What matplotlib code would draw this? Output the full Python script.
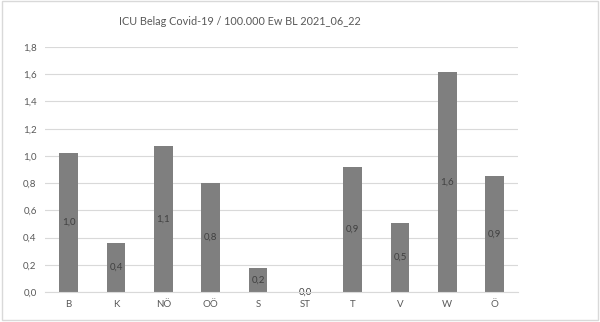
import matplotlib
matplotlib.use('Agg')
import matplotlib.pyplot as plt
from matplotlib.patches import Rectangle

plt.rcParams['font.family'] = ['Lato', 'DejaVu Sans']

# Bundesländer und Werte (ICU Belag je 100.000 EW)
laender = ["B", "K", "NÖ", "OÖ", "S", "ST", "T", "V", "W", "Ö"]
werte = [1.02, 0.36, 1.07, 0.80, 0.18, 0.0, 0.92, 0.505, 1.62, 0.855]
y_ticks = [0.0, 0.2, 0.4, 0.6, 0.8, 1.0, 1.2, 1.4, 1.6, 1.8]
titel = "ICU Belag Covid-19 / 100.000 Ew BL 2021_06_22"


def komma(v, n=1):
    return f"{v:.{n}f}".replace(".", ",")


fig = plt.figure(figsize=(6.0, 3.22), dpi=100)
ax = fig.add_axes([0.075, 0.093, 0.789, 0.761])

x = range(len(laender))
ax.bar(x, werte, width=0.39, color="#7f7f7f", zorder=3)

for xi, v in zip(x, werte):
    ax.text(xi, v / 2, komma(v), ha="center", va="center",
            fontsize=7, color="#404040", zorder=4)

ax.set_xlim(-0.5, len(laender) - 0.5)
ax.set_ylim(0, 1.8)
ax.set_yticks(y_ticks)
ax.set_yticklabels([komma(t) for t in y_ticks])
ax.set_xticks(list(x))
ax.set_xticklabels(laender)

ax.grid(axis="y", color="#d9d9d9", linewidth=0.8, zorder=0)
for s in ["top", "right", "left"]:
    ax.spines[s].set_visible(False)
ax.spines["bottom"].set_color("#d9d9d9")
ax.spines["bottom"].set_zorder(5)
ax.tick_params(axis="both", length=0, labelsize=7, colors="#595959")
ax.tick_params(axis="x", pad=6)
ax.tick_params(axis="y", pad=6)

fig.text(0.40, 0.932, titel, ha="center", va="center",
         fontsize=7.8, color="#595959")

# grauer Rahmen um das Diagramm
fig.patches.append(Rectangle((0.004, 0.006), 0.992, 0.99, transform=fig.transFigure,
                             fill=False, edgecolor="#d9d9d9", linewidth=1.0))

plt.savefig("out.png", dpi=100)
